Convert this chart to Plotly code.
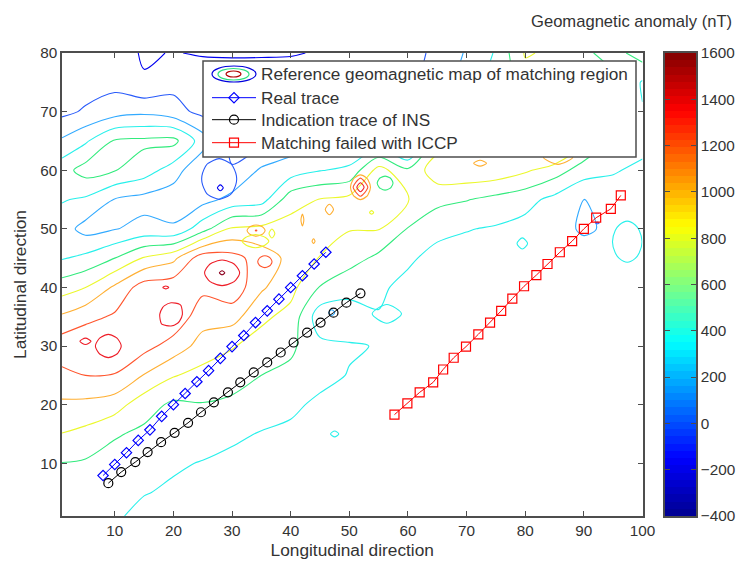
import numpy as np
import plotly.graph_objects as go

W, H = 736, 561
FONT = "Liberation Sans"
INK = "#333333"
AXC = "#4d4d4d"

# ---------- anomaly grid (nT) ----------
GRID_X = [1, 5, 10, 15, 20, 25, 30, 35, 40, 45, 50, 55, 60, 65, 70, 75, 80, 85, 90, 95, 100]
GRID_Y = [80, 75, 70, 65, 60, 55, 50, 45, 40, 35, 30, 25, 20, 15, 10, 5, 1]
COLUMNS = [
 [-120,-100,-50,229,520,415,290,385,705,1030,1320,1150,965,795,595,510,470],
 [-110,-90,24,370,680,370,130,450,800,1130,1390,1200,950,743,575,480,440],
 [-100,-60,112,620,610,190,190,600,1035,1230,1350,1190,890,620,520,440,430],
 [-225,-180,153,640,500,130,260,820,1300,1320,1270,990,678,560,490,410,340],
 [-190,-60,78,660,300,80,230,950,1330,1350,1115,815,565,510,425,370,330],
 [-220,-60,-60,300,10,130,520,1320,1250,1080,920,730,590,490,390,340,310],
 [-220,-100,-100,-80,20,260,830,1280,1340,1080,815,690,555,430,360,320,300],
 [-220,-90,-70,-50,230,310,860,1100,1030,840,720,600,480,390,330,300,290],
 [-220,-50,0,100,290,720,880,950,860,740,640,550,420,380,330,300,285],
 [-180,-50,100,220,390,810,900,790,590,280,450,430,380,350,310,290,280],
 [-150,0,100,200,440,860,810,690,450,330,410,395,340,310,290,280,270],
 [-130,50,200,250,880,810,810,550,430,390,395,395,320,290,275,265,260],
 [-80,-60,-60,-50,640,805,590,430,350,360,320,300,280,265,255,250,245],
 [50,100,300,700,920,660,450,340,310,290,280,270,260,250,245,240,235],
 [220,300,500,800,950,610,410,320,300,280,275,265,255,245,240,235,230],
 [420,500,650,850,930,540,380,300,280,270,260,255,250,240,235,230,225],
 [820,700,750,880,830,470,330,310,290,265,255,250,245,240,235,230,225],
 [760,800,900,1190,700,340,280,290,280,265,255,250,240,235,230,225,220],
 [640,700,800,820,500,195,170,300,290,270,260,250,240,235,230,225,220],
 [520,650,700,560,420,290,240,300,285,270,258,250,240,235,230,225,220],
 [700,380,410,480,350,310,300,300,285,270,260,250,240,235,230,225,220],
]

# ---------- small local anomalies: (x nodes, y nodes, z rows) ----------
PEAK = ([23.65,25.98,28.3,30.63,32.95],[39.1,40.8,42.5,44.2,45.9],
        [[1300,1300,1300,1300,1300],[1300,1385,1440,1385,1300],[1300,1440,1640,1440,1300],[1300,1385,1440,1385,1300],[1300,1300,1300,1300,1300]])
OVAL = ([16.7,18.15,19.6,21.05,22.5],[32.45,33.9,35.4,36.9,38.35],
        [[1300,1300,1300,1300,1300],[1300,1420,1450,1385,1300],[1300,1450,1500,1450,1300],[1300,1385,1450,1420,1300],[1300,1300,1300,1300,1300]])
ISLAND_W = ([5.6,7.25,8.9,10.55,12.2],[27.05,28.5,30,31.5,32.95],
        [[1300,1300,1300,1300,1300],[1300,1385,1450,1385,1300],[1300,1450,1500,1450,1300],[1300,1385,1450,1385,1300],[1300,1300,1300,1300,1300]])
HOT = ([49.85,50.88,51.9,52.93,53.95],[54.57,55.83,57.1,58.37,59.63],
        [[850,850,850,850,850],[850,1050,1300,1050,850],[850,1300,1550,1300,850],[850,1050,1300,1050,850],[850,850,850,850,850]])
GREEN_DIP = ([54.07,55.09,56.1,57.12,58.13],[56,56.9,57.8,58.7,59.6],
        [[680,680,680,680,680],[680,610,560,610,680],[680,560,480,560,680],[680,610,560,610,680],[680,680,680,680,680]])
ORANGE_BUMP = ([31.7,32.9,34.1,35.3,36.5],[48.23,48.97,49.7,50.43,51.17],
        [[900,900,900,900,900],[900,985,1040,985,900],[900,1040,1220,1040,900],[900,985,1040,985,900],[900,900,900,900,900]])
YELLOW_DIP = ([30.6,32.3,34,35.7,37.4],[46.2,47.05,47.9,48.75,49.6],
        [[880,880,880,880,880],[880,815,760,815,880],[880,760,700,760,880],[880,815,760,815,880],[880,880,880,880,880]])
RED_SPOT = ([33.7,34.65,35.6,36.55,37.5],[42.85,43.6,44.4,45.2,45.95],
        [[1100,1100,1100,1100,1100],[1100,1185,1240,1185,1100],[1100,1240,1280,1240,1100],[1100,1185,1240,1185,1100],[1100,1100,1100,1100,1100]])
CYAN_E = ([93.3,95.35,97.4,99.45,101.5],[42.1,44.95,47.8,50.65,53.5],
        [[300,300,300,300,300],[300,385,430,385,300],[300,430,470,430,300],[300,385,430,385,300],[300,300,300,300,300]])
POCKET = ([23.15,25.48,27.8,30.13,32.45],[53.1,55.8,58.5,61.2,63.9],
        [[100,100,100,100,100],[100,10,-40,10,100],[100,-40,-60,-40,100],[100,10,-40,10,100],[100,100,100,100,100]])
SMALL = [
 ([3.1,5,6.9],[29.7,30.8,31.9],[[1300,1300,1300],[1300,1500,1300],[1300,1300,1300]]),
 ([17.7,18.7,19.7],[39.5,40,40.5],[[1300,1300,1300],[1300,1500,1300],[1300,1300,1300]]),
 ([35.9,36.8,37.7],[47.8,49.2,50.6],[[880,880,880],[880,700,880],[880,880,880]]),
 ([41.5,42,42.5],[49.5,51.5,53.5],[[900,900,900],[900,1100,900],[900,900,900]]),
 ([45.2,46.6,48],[51.5,53.3,55.1],[[900,900,900],[900,1100,900],[900,900,900]]),
 ([43.4,43.9,44.4],[47.1,47.9,48.7],[[900,900,900],[900,1100,900],[900,900,900]]),
 ([53.1,53.8,54.5],[52.2,52.8,53.4],[[700,700,700],[700,900,700],[700,700,700]]),
 ([70.1,72.3,74.5],[60.2,61.2,62.2],[[900,900,900],[900,1100,900],[900,900,900]]),
 ([80.6,85.6,90.6],[59.8,62.2,64.6],[[900,900,900],[900,1100,900],[900,900,900]]),
 ([46,47,48],[34.7,35.7,36.7],[[300,300,300],[300,100,300],[300,300,300]]),
 ([46.1,47.5,48.9],[14,15,16],[[300,300,300],[300,500,300],[300,300,300]]),
 ([77.7,79.5,81.3],[45.6,47.5,49.4],[[300,300,300],[300,500,300],[300,300,300]]),
 ([51.4,56.4,61.4],[32.3,35.5,38.7],[[300,300,300],[300,500,300],[300,300,300]]),
 ([91.7,92.3,92.9],[50.7,51,51.3],[[100,100,100],[100,-100,100],[100,100,100]]),
 ([27,28,29],[56,57,58],[[-100,-100,-100],[-100,-300,-100],[-100,-100,-100]]),
]

# ---------- traces ----------
REAL_X = [8,10,12,14,16,18,20,22,24,26,28,30,32,34,36,38,40,42,44,46]
REAL_Y = [7.9,9.8,11.8,13.9,15.7,18,20,21.9,23.9,25.8,27.9,29.9,31.8,34,36,38,40,42,44,46]
INS_X = [8.9,11.1,13.5,15.6,17.9,20.2,22.5,24.7,26.9,29.3,31.4,33.7,36,38.3,40.5,42.8,45.1,47.3,49.5,51.9]
INS_Y = [6.6,8.5,10.2,11.9,13.6,15.2,16.9,18.7,20.4,22.1,23.8,25.5,27.2,28.9,30.6,32.3,34,35.7,37.4,39]
ICCP_X = [57.7,59.9,62,64.3,66,67.8,69.9,72,74,75.9,77.8,79.8,81.9,83.8,85.9,88,90,92.1,94.6,96.3]
ICCP_Y = [18.3,20.2,22.1,23.8,26,28,29.9,32,34,36,38.1,40.2,42.1,44,46,47.9,50,51.9,53.4,55.7]

LEGEND_NAMES = ["Reference geomagnetic map of matching region", "Real trace",
                "Indication trace of INS", "Matching failed with ICCP"]
COLORBAR_TICKS = [-400,-200,0,200,400,600,800,1000,1200,1400,1600]

JET = [[0,"rgb(0,0,143)"],[0.125,"rgb(0,0,255)"],[0.375,"rgb(0,255,255)"],
       [0.625,"rgb(255,255,0)"],[0.875,"rgb(255,0,0)"],[1,"rgb(128,0,0)"]]
# contour-line colour per level, -400 ... 1600 nT
LINE_COLOURS = ["rgb(0,0,160)","rgb(0,0,240)","rgb(40,90,250)","rgb(50,170,255)","rgb(40,240,235)",
                "rgb(50,235,125)","rgb(235,248,45)","rgb(255,175,50)","rgb(255,85,45)","rgb(238,30,40)","rgb(140,0,30)"]
LINE_SCALE = [[i / 10, c] for i, c in enumerate(LINE_COLOURS)]

def contour(x, y, z):
    return go.Contour(x=x, y=y, z=z, colorscale=LINE_SCALE, zmin=-400, zmax=1600, autocontour=False,
                      contours=dict(start=-400, end=1600, size=200, coloring="lines"),
                      line=dict(width=1.1, smoothing=0.85), showscale=False,
                      showlegend=False, hoverinfo="skip")

fig = go.Figure()
z_main = np.array(COLUMNS).T[::-1]
fig.add_trace(contour(GRID_X, GRID_Y[::-1], z_main))
for p in [PEAK, OVAL, ISLAND_W, HOT, GREEN_DIP, ORANGE_BUMP, YELLOW_DIP, RED_SPOT, CYAN_E, POCKET] + SMALL:
    fig.add_trace(contour(*p))

fig.add_trace(go.Scatter(x=[None], y=[None], mode="lines", name=LEGEND_NAMES[0], legend="legend",
                         showlegend=True, line=dict(color="rgba(0,0,0,0)", width=1)))
for xs, ys, name, col, sym, size, lg in [
    (REAL_X, REAL_Y, LEGEND_NAMES[1], "#0000ff", "diamond-open", 8, "legend2"),
    (INS_X, INS_Y, LEGEND_NAMES[2], "#000000", "circle-open", 9, "legend3"),
    (ICCP_X, ICCP_Y, LEGEND_NAMES[3], "#ff0000", "square-open", 9, "legend4")]:
    fig.add_trace(go.Scatter(x=xs, y=ys, mode="lines+markers", name=name, legend=lg, showlegend=True,
                             line=dict(color=col, width=1),
                             marker=dict(symbol=sym, size=size, color=col, line=dict(color=col, width=1.2))))

# colour bar drawn as its own small axes
cb_levels = np.linspace(-400, 1600, 65)
cb_centres = (cb_levels[:-1] + cb_levels[1:]) / 2
fig.add_trace(go.Heatmap(x=[0], y=cb_centres, z=[[v] for v in cb_centres], xaxis="x2", yaxis="y2",
                         colorscale=JET, zmin=-400, zmax=1600, showscale=False,
                         hoverinfo="skip", showlegend=False))

def X(px): return px / W
def Y(py): return 1 - py / H

axis_common = dict(showgrid=False, zeroline=False, showline=True, linecolor=AXC, linewidth=1.5,
                   mirror="ticks", ticks="inside", ticklen=5, tickcolor=AXC, tickwidth=1,
                   tickfont=dict(family=FONT, size=15.3, color=INK))

shapes = [
    dict(type="rect", xref="paper", yref="paper", x0=X(203), x1=X(636), y0=Y(157), y1=Y(61),
         fillcolor="white", line=dict(color=AXC, width=1.5), layer="above"),
    dict(type="circle", xref="paper", yref="paper", x0=X(212), x1=X(256), y0=Y(82), y1=Y(66),
         line=dict(color="#0000dd", width=1.2), layer="above"),
    dict(type="circle", xref="paper", yref="paper", x0=X(218), x1=X(249), y0=Y(80), y1=Y(68.5),
         line=dict(color="#30e080", width=1.2), layer="above"),
    dict(type="circle", xref="paper", yref="paper", x0=X(226), x1=X(241), y0=Y(77), y1=Y(71),
         line=dict(color="#b00000", width=1.2), layer="above"),
]

def legend_at(py):
    return dict(x=X(207), y=Y(py), xanchor="left", yanchor="middle", bgcolor="rgba(0,0,0,0)", borderwidth=0,
                itemwidth=44, font=dict(family=FONT, size=17.2, color=INK), visible=True)

fig.update_layout(
    width=W, height=H, margin=dict(l=0, r=0, t=0, b=0, autoexpand=False),
    paper_bgcolor="white", plot_bgcolor="white", showlegend=True,
    xaxis=dict(axis_common, domain=[X(62), X(642.5)], range=[1, 100], tickvals=list(range(10, 101, 10)),
               title=dict(text="Longitudinal direction", font=dict(family=FONT, size=17.3, color=INK), standoff=6)),
    yaxis=dict(axis_common, domain=[Y(516), Y(53)], range=[1, 80], tickvals=list(range(10, 81, 10)),
               title=dict(text="Latitudinal direction", font=dict(family=FONT, size=17.3, color=INK), standoff=9)),
    xaxis2=dict(domain=[X(665), X(696)], anchor="y2", showticklabels=False, ticks="", showgrid=False,
                zeroline=False, showline=True, linecolor=AXC, linewidth=1.5, mirror=True),
    yaxis2=dict(axis_common, domain=[Y(516), Y(53)], anchor="x2", side="right", range=[-400, 1600],
                tickvals=COLORBAR_TICKS),
    shapes=shapes,
    legend=legend_at(74), legend2=legend_at(98), legend3=legend_at(120), legend4=legend_at(143),
    annotations=[dict(text="Geomagnetic anomaly (nT)", xref="paper", yref="paper", x=X(734), y=Y(21),
                      xanchor="right", yanchor="middle", showarrow=False,
                      font=dict(family=FONT, size=16.6, color=INK))],
)
fig.write_html("out.html", config=dict(displayModeBar=False), post_script="document.body.style.margin='0';")
